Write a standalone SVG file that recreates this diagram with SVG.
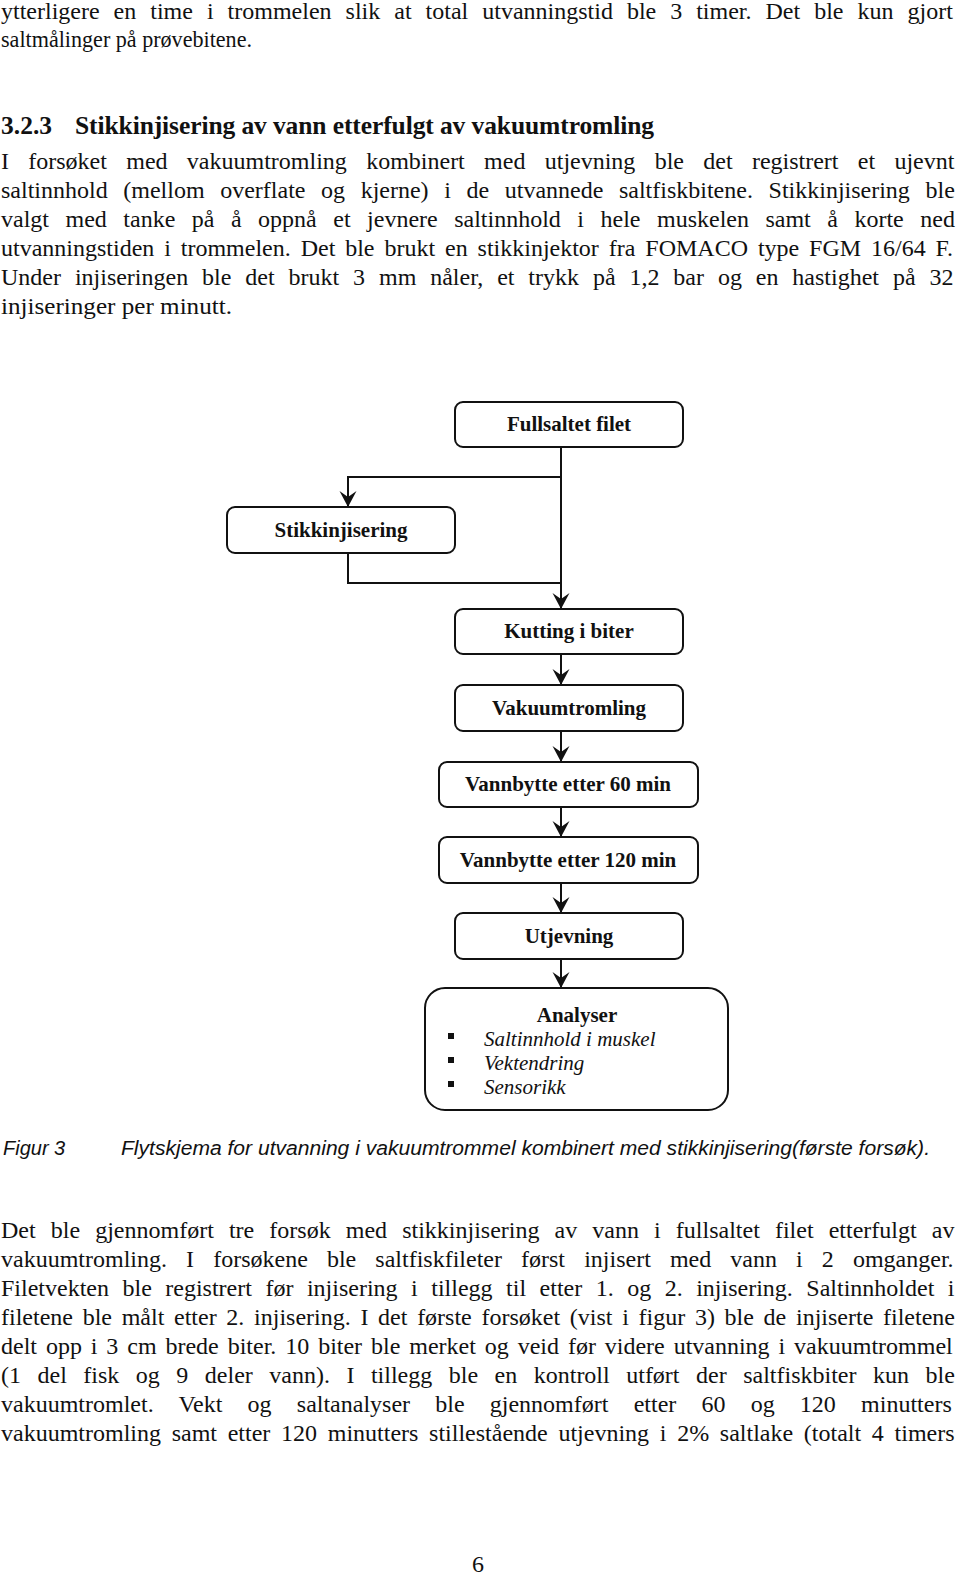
<svg xmlns="http://www.w3.org/2000/svg" width="960" height="1576" viewBox="0 0 960 1576">
<style>
.body{font-family:"Liberation Serif","Times New Roman",serif;font-size:24px;fill:#111}
.head{font-family:"Liberation Serif","Times New Roman",serif;font-size:25.5px;font-weight:bold;fill:#111}
.box{fill:#fff;stroke:#111;stroke-width:2}
.lbl{font-family:"Liberation Serif","Times New Roman",serif;font-size:21px;font-weight:bold;fill:#111;text-anchor:middle}
.itm{font-family:"Liberation Serif","Times New Roman",serif;font-size:21px;font-style:italic;fill:#111}
.cap{font-family:"Liberation Sans",Arial,sans-serif;font-size:20px;font-style:italic;fill:#111}
.con{fill:none;stroke:#111;stroke-width:2}
</style>
<defs>
<marker id="arr" viewBox="-17 -9 18 18" refX="0" refY="0" markerWidth="18" markerHeight="18" markerUnits="userSpaceOnUse" orient="auto">
<path d="M0,0 L-16,-8.5 L-10,0 L-16,8.5 Z" fill="#111"/>
</marker>
</defs>
<rect width="960" height="1576" fill="#fff"/>
<g id="text-top">
<text class="body" x="1" y="19" word-spacing="8">ytterligere en time i trommelen slik at total utvanningstid ble 3 timer. Det ble kun gjort</text>
<text class="body" x="1" y="47" textLength="251" lengthAdjust="spacingAndGlyphs">saltmålinger på prøvebitene.</text>
<text class="head" x="1" y="134">3.2.3</text>
<text class="head" x="75" y="134" textLength="579" lengthAdjust="spacing">Stikkinjisering av vann etterfulgt av vakuumtromling</text>
<text class="body" x="1" y="169" word-spacing="13.3">I forsøket med vakuumtromling kombinert med utjevning ble det registrert et ujevnt</text>
<text class="body" x="1" y="198" word-spacing="9.6">saltinnhold (mellom overflate og kjerne) i de utvannede saltfiskbitene. Stikkinjisering ble</text>
<text class="body" x="1" y="227" word-spacing="10.5">valgt med tanke på å oppnå et jevnere saltinnhold i hele muskelen samt å korte ned</text>
<text class="body" x="1" y="256" word-spacing="3.9">utvanningstiden i trommelen. Det ble brukt en stikkinjektor fra FOMACO type FGM 16/64 F.</text>
<text class="body" x="1" y="285" word-spacing="7.9">Under injiseringen ble det brukt 3 mm nåler, et trykk på 1,2 bar og en hastighet på 32</text>
<text class="body" x="1" y="314" textLength="231" lengthAdjust="spacingAndGlyphs">injiseringer per minutt.</text>
</g>
<g id="connectors">
<line class="con" x1="561" y1="447" x2="561" y2="609" marker-end="url(#arr)"/>
<path class="con" d="M561,477 H348 V507" marker-end="url(#arr)"/>
<path class="con" d="M348,553 V583 H561"/>
<line class="con" x1="561" y1="654" x2="561" y2="685" marker-end="url(#arr)"/>
<line class="con" x1="561" y1="731" x2="561" y2="762" marker-end="url(#arr)"/>
<line class="con" x1="561" y1="807" x2="561" y2="837" marker-end="url(#arr)"/>
<line class="con" x1="561" y1="883" x2="561" y2="913" marker-end="url(#arr)"/>
<line class="con" x1="561" y1="959" x2="561" y2="988" marker-end="url(#arr)"/>
</g>
<g id="n-fullsaltet">
<rect class="box" x="455" y="402" width="228" height="45" rx="8"/>
<text class="lbl" x="569" y="431">Fullsaltet filet</text>
</g>
<g id="n-stikk">
<rect class="box" x="227" y="507" width="228" height="46" rx="8"/>
<text class="lbl" x="341" y="537">Stikkinjisering</text>
</g>
<g id="n-kutting">
<rect class="box" x="455" y="609" width="228" height="45" rx="8"/>
<text class="lbl" x="569" y="638">Kutting i biter</text>
</g>
<g id="n-vakuum">
<rect class="box" x="455" y="685" width="228" height="46" rx="8"/>
<text class="lbl" x="569" y="715">Vakuumtromling</text>
</g>
<g id="n-v60">
<rect class="box" x="439" y="762" width="259" height="45" rx="8"/>
<text class="lbl" x="568" y="791">Vannbytte etter 60 min</text>
</g>
<g id="n-v120">
<rect class="box" x="439" y="837" width="259" height="46" rx="8"/>
<text class="lbl" x="568" y="867">Vannbytte etter 120 min</text>
</g>
<g id="n-utj">
<rect class="box" x="455" y="913" width="228" height="46" rx="8"/>
<text class="lbl" x="569" y="943">Utjevning</text>
</g>
<g id="n-analyser">
<rect class="box" x="425" y="988" width="303" height="122" rx="20"/>
<text class="lbl" x="577" y="1022">Analyser</text>
<rect x="448" y="1033" width="6" height="6" fill="#111"/>
<rect x="448" y="1057" width="6" height="6" fill="#111"/>
<rect x="448" y="1081" width="6" height="6" fill="#111"/>
<text class="itm" x="484" y="1046">Saltinnhold i muskel</text>
<text class="itm" x="484" y="1070">Vektendring</text>
<text class="itm" x="484" y="1094">Sensorikk</text>
</g>
<g id="caption">
<text class="cap" x="3" y="1155">Figur 3</text>
<text class="cap" x="121" y="1155" textLength="809" lengthAdjust="spacingAndGlyphs">Flytskjema for utvanning i vakuumtrommel kombinert med stikkinjisering(første forsøk).</text>
</g>
<g id="text-bottom">
<text class="body" x="1" y="1238" word-spacing="9.1">Det ble gjennomført tre forsøk med stikkinjisering av vann i fullsaltet filet etterfulgt av</text>
<text class="body" x="1" y="1267" word-spacing="13.1">vakuumtromling. I forsøkene ble saltfiskfileter først injisert med vann i 2 omganger.</text>
<text class="body" x="1" y="1296" word-spacing="7.5">Filetvekten ble registrert før injisering i tillegg til etter 1. og 2. injisering. Saltinnholdet i</text>
<text class="body" x="1" y="1325" word-spacing="3.7">filetene ble målt etter 2. injisering. I det første forsøket (vist i figur 3) ble de injiserte filetene</text>
<text class="body" x="1" y="1354" word-spacing="2.9">delt opp i 3 cm brede biter. 10 biter ble merket og veid før videre utvanning i vakuumtrommel</text>
<text class="body" x="1" y="1383" word-spacing="10.5">(1 del fisk og 9 deler vann). I tillegg ble en kontroll utført der saltfiskbiter kun ble</text>
<text class="body" x="1" y="1412" word-spacing="19.2">vakuumtromlet. Vekt og saltanalyser ble gjennomført etter 60 og 120 minutters</text>
<text class="body" x="1" y="1441" word-spacing="4.7">vakuumtromling samt etter 120 minutters stillestående utjevning i 2% saltlake (totalt 4 timers</text>
<text class="body" x="478" y="1572" text-anchor="middle">6</text>
</g>
</svg>
